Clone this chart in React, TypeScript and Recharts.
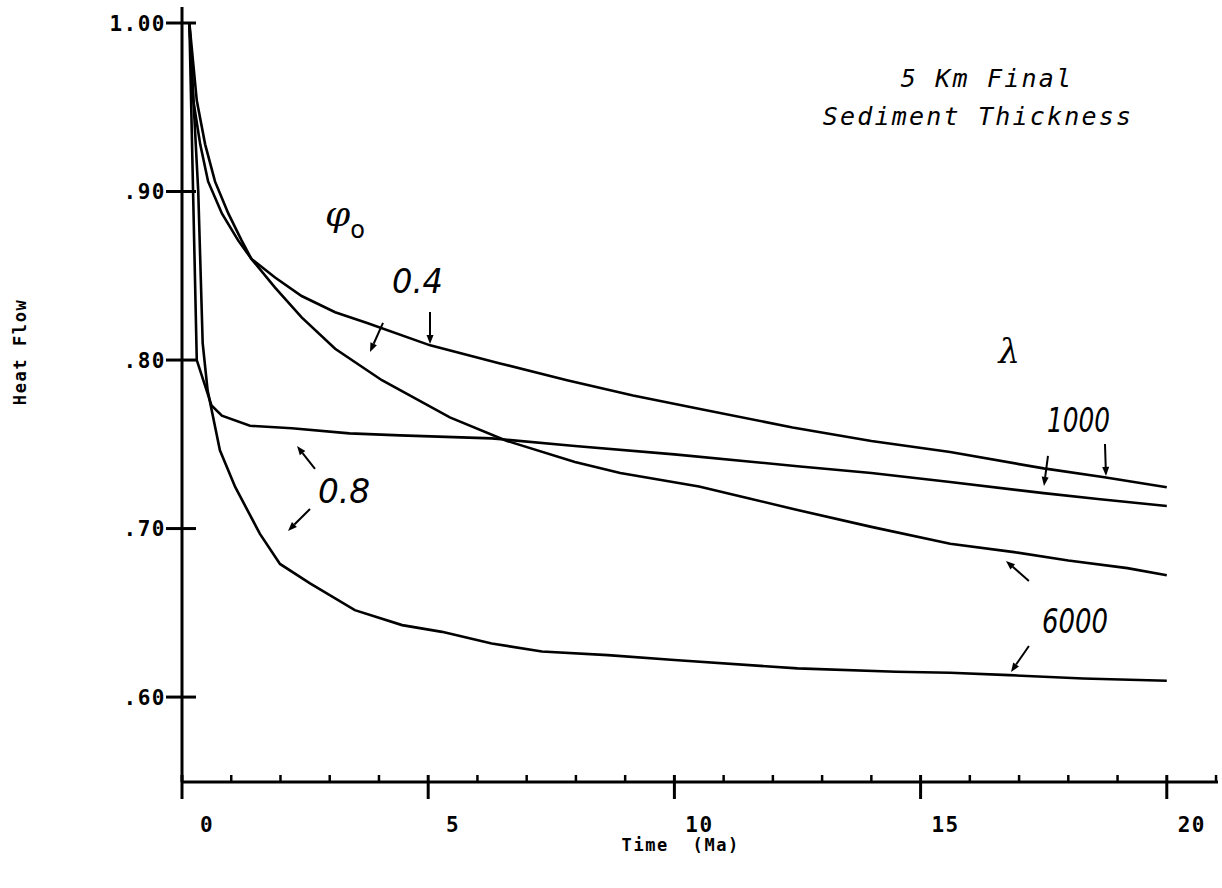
import React from 'react';
import { LineChart, Line, XAxis, YAxis, ReferenceLine, ReferenceDot } from 'recharts';

// Heat flow (normalised) vs time (Ma): [time, heat flow]
const phi04Lambda1000: [number, number][] = [
  [0.15, 1.0], [0.23, 0.954], [0.37, 0.928], [0.53, 0.906], [0.81, 0.887], [1.14, 0.871],
  [1.41, 0.86], [1.89, 0.849], [2.43, 0.838], [3.11, 0.8284], [3.76, 0.822], [5.04, 0.8087],
  [6.46, 0.798], [7.82, 0.788], [9.16, 0.779], [10.52, 0.771], [12.4, 0.76], [14.0, 0.752],
  [15.6, 0.7454], [17.5, 0.7357], [18.7, 0.7306], [20.0, 0.7245],
];
const phi04Lambda6000: [number, number][] = [
  [0.15, 1.0], [0.3, 0.954], [0.47, 0.928], [0.67, 0.906], [0.94, 0.887], [1.21, 0.871],
  [1.41, 0.86], [1.89, 0.843], [2.43, 0.8253], [3.11, 0.8067], [4.06, 0.788], [5.44, 0.766],
  [6.6, 0.752], [7.98, 0.7395], [8.9, 0.733], [10.5, 0.725], [11.5, 0.718], [12.5, 0.711],
  [14.0, 0.701], [15.6, 0.691], [16.9, 0.686], [18.0, 0.681], [19.2, 0.6765], [20.0, 0.6723],
];
const phi08Lambda1000: [number, number][] = [
  [0.15, 1.0], [0.3, 0.8], [0.6, 0.773], [0.81, 0.767], [1.38, 0.761], [2.23, 0.7595],
  [3.4, 0.7565], [4.43, 0.7553], [6.29, 0.7535], [7.98, 0.749], [10.0, 0.744], [12.5, 0.737],
  [14.0, 0.733], [15.6, 0.7276], [17.5, 0.721], [18.6, 0.7175], [20.0, 0.7134],
];
const phi08Lambda6000: [number, number][] = [
  [0.15, 1.0], [0.33, 0.9], [0.42, 0.81], [0.52, 0.782], [0.77, 0.7464], [1.08, 0.7247],
  [1.58, 0.697], [1.99, 0.679], [2.6, 0.6675], [3.51, 0.6516], [4.47, 0.6427], [5.28, 0.6387],
  [6.29, 0.6318], [7.31, 0.627], [8.65, 0.6249], [10.0, 0.622], [12.5, 0.617], [14.5, 0.615],
  [15.6, 0.6144], [16.8, 0.613], [18.3, 0.611], [20.0, 0.6097],
];

const xTicks = [0, 1, 2, 3, 4, 5, 6, 7, 8, 9, 10, 11, 12, 13, 14, 15, 16, 17, 18, 19, 20, 21];
const xMajorTicks = [0, 5, 10, 15, 20];
const yTicks = [0.6, 0.7, 0.8, 0.9, 1.0];
const yTickLabels = ['.60', '.70', '.80', '.90', '1.00'];

// annotation arrows: [fromT, fromQ, tipT, tipQ]
const arrows: [number, number, number, number][] = [
  [4.082, 0.822, 3.818, 0.8048],
  [5.037, 0.8285, 5.037, 0.8095],
  [2.701, 0.7354, 2.336, 0.749],
  [2.6, 0.7116, 2.153, 0.6986],
  [17.587, 0.7431, 17.506, 0.7253],
  [18.745, 0.7502, 18.765, 0.7312],
  [17.2, 0.6689, 16.734, 0.6808],
  [17.2, 0.6303, 16.836, 0.6149],
];

// curve labels: [t, q, text, width]
const curveLabels: [number, number, string, number][] = [
  [4.783, 0.8398, '0.4', 51],
  [3.29, 0.7152, '0.8', 52],
  [18.207, 0.7573, '1000', 63],
  [18.136, 0.638, '6000', 66],
];

const titleLines: [number, number, string][] = [
  [16.35, 0.9621, '5 Km Final'],
  [16.166, 0.9395, 'Sediment Thickness'],
];

const phiLabel: [number, number] = [3.31, 0.8796];
const lambdaLabel: [number, number] = [16.8, 0.7983];
const xTitle: [number, number, string] = [10.13, 0.5085, 'Time  (Ma)'];
const yTitle: [number, number, string] = [-3.29, 0.8048, 'Heat Flow'];

const toPoints = (arr: [number, number][]) => arr.map(([t, q]) => ({ t, q }));

const MONO = '"DejaVu Sans Mono", "Liberation Mono", monospace';

const XTick = (props: any) => {
  const { x, y, payload } = props;
  const v = payload.value;
  const major = xMajorTicks.includes(v);
  if (!major) {
    return <line x1={x} y1={y} x2={x} y2={y - 7} stroke="#000" strokeWidth={2.5} />;
  }
  return (
    <g>
      <line x1={x} y1={y - 7} x2={x} y2={y + 17} stroke="#000" strokeWidth={3} />
      <text x={x + 25} y={y + 50} textAnchor="middle" fontFamily={MONO} fontWeight="bold"
        fontSize={21} letterSpacing={1.5} fill="#000">{String(v)}</text>
    </g>
  );
};

const YTick = (props: any) => {
  const { x, y, payload } = props;
  const idx = yTicks.findIndex((t) => Math.abs(t - payload.value) < 1e-6);
  return (
    <g>
      <line x1={x - 16} y1={y} x2={x + 14} y2={y} stroke="#000" strokeWidth={3} />
      <text x={x - 16} y={y} dy="0.36em" textAnchor="end" fontFamily={MONO} fontWeight="bold"
        fontSize={21} letterSpacing={1.5} fill="#000">{idx >= 0 ? yTickLabels[idx] : ''}</text>
    </g>
  );
};

const ArrowShape = (props: any) => {
  const { x1, y1, x2, y2 } = props;
  if ([x1, y1, x2, y2].some((v) => typeof v !== 'number' || isNaN(v))) return null;
  const ang = Math.atan2(y2 - y1, x2 - x1);
  const L = 9;
  const W = 3.5;
  const bx = x2 - L * Math.cos(ang);
  const by = y2 - L * Math.sin(ang);
  const p1 = `${bx + W * Math.sin(ang)},${by - W * Math.cos(ang)}`;
  const p2 = `${bx - W * Math.sin(ang)},${by + W * Math.cos(ang)}`;
  return (
    <g>
      <line x1={x1} y1={y1} x2={bx} y2={by} stroke="#000" strokeWidth={2} />
      <polygon points={`${x2},${y2} ${p1} ${p2}`} fill="#000" />
    </g>
  );
};

const makeTextShape = (render: (cx: number, cy: number) => React.ReactElement) => (props: any) => {
  const { cx, cy } = props;
  if (typeof cx !== 'number' || typeof cy !== 'number') return null;
  return render(cx, cy);
};

export default function App() {
  return (
    <div style={{ position: 'absolute', left: 0, top: 0, width: 1222, height: 888, background: '#fff' }}>
      <LineChart width={1222} height={888} margin={{ top: 7, right: 4, bottom: 46, left: 122 }}>
        <XAxis type="number" dataKey="t" domain={[0, 21.04]} ticks={xTicks} interval={0}
          allowDataOverflow tickSize={0} tickMargin={0} tickLine={false} height={60}
          axisLine={{ stroke: '#000', strokeWidth: 3 }} tick={<XTick />} />
        <YAxis type="number" dataKey="q" domain={[0.5496, 1.0095]} ticks={yTicks} interval={0}
          allowDataOverflow tickSize={0} tickMargin={0} tickLine={false} width={60}
          axisLine={{ stroke: '#000', strokeWidth: 3 }} tick={<YTick />} />
        <Line data={toPoints(phi04Lambda1000)} dataKey="q" type="linear" stroke="#000" strokeWidth={2.6}
          dot={false} isAnimationActive={false} />
        <Line data={toPoints(phi04Lambda6000)} dataKey="q" type="linear" stroke="#000" strokeWidth={2.6}
          dot={false} isAnimationActive={false} />
        <Line data={toPoints(phi08Lambda1000)} dataKey="q" type="linear" stroke="#000" strokeWidth={2.6}
          dot={false} isAnimationActive={false} />
        <Line data={toPoints(phi08Lambda6000)} dataKey="q" type="linear" stroke="#000" strokeWidth={2.6}
          dot={false} isAnimationActive={false} />
        {arrows.map(([a, b, c, d], i) => (
          <ReferenceLine key={`ar${i}`} segment={[{ x: a, y: b }, { x: c, y: d }]} ifOverflow="visible"
            shape={ArrowShape} />
        ))}
        {curveLabels.map(([t, q, text, w], i) => (
          <ReferenceDot key={`cl${i}`} x={t} y={q} r={0} ifOverflow="visible"
            shape={makeTextShape((cx, cy) => (
              <text x={cx} y={cy} textAnchor="middle" fontFamily='"DejaVu Sans", sans-serif'
                fontStyle="italic" fontSize={33} textLength={w} lengthAdjust="spacingAndGlyphs"
                fill="#000">{text}</text>
            ))} />
        ))}
        {titleLines.map(([t, q, text], i) => (
          <ReferenceDot key={`tl${i}`} x={t} y={q} r={0} ifOverflow="visible"
            shape={makeTextShape((cx, cy) => (
              <text x={cx} y={cy} textAnchor="middle" fontFamily={MONO} fontStyle="italic"
                fontSize={25} letterSpacing={2.2} fill="#000">{text}</text>
            ))} />
        ))}
        <ReferenceDot x={phiLabel[0]} y={phiLabel[1]} r={0} ifOverflow="visible"
          shape={makeTextShape((cx, cy) => (
            <text x={cx} y={cy} textAnchor="middle" fontFamily='"DejaVu Serif", serif' fill="#000">
              <tspan fontSize={36} fontStyle="italic">φ</tspan>
              <tspan fontSize={24} dy={12} fontFamily='"DejaVu Sans", sans-serif'>o</tspan>
            </text>
          ))} />
        <ReferenceDot x={lambdaLabel[0]} y={lambdaLabel[1]} r={0} ifOverflow="visible"
          shape={makeTextShape((cx, cy) => (
            <text x={cx} y={cy} textAnchor="middle" fontFamily='"DejaVu Serif", serif'
              fontStyle="italic" fontSize={34} fill="#000">λ</text>
          ))} />
        <ReferenceDot x={xTitle[0]} y={xTitle[1]} r={0} ifOverflow="visible"
          shape={makeTextShape((cx, cy) => (
            <text x={cx} y={cy} textAnchor="middle" fontFamily={MONO} fontWeight="bold"
              fontSize={17} letterSpacing={1.6} fill="#000" style={{ whiteSpace: 'pre' }}>{xTitle[2]}</text>
          ))} />
        <ReferenceDot x={yTitle[0]} y={yTitle[1]} r={0} ifOverflow="visible"
          shape={makeTextShape((cx, cy) => (
            <text x={cx} y={cy} transform={`rotate(-90, ${cx}, ${cy})`} textAnchor="middle"
              dominantBaseline="central" fontFamily={MONO} fontWeight="bold" fontSize={17}
              letterSpacing={1.6} fill="#000">{yTitle[2]}</text>
          ))} />
      </LineChart>
    </div>
  );
}
